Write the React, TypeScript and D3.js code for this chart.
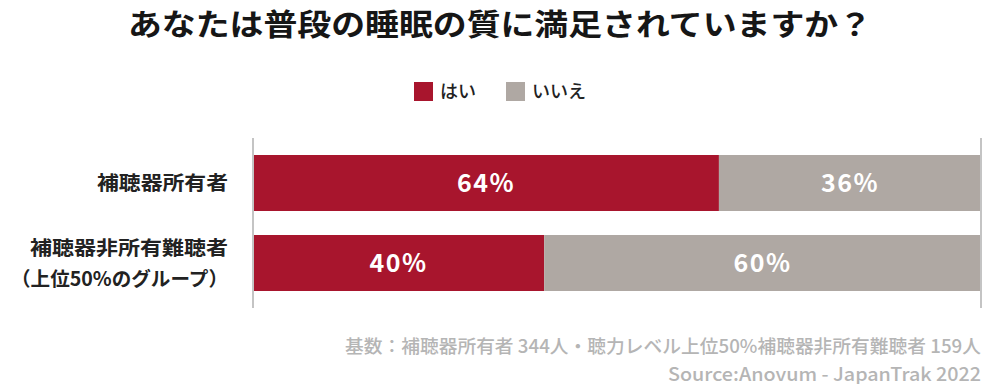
import React, { useEffect, useRef } from 'react';
import { scaleBand, scaleLinear, select } from 'd3';

// groups shown on the y axis (second one wraps to two lines)
const groups = ['補聴器所有者', '補聴器非所有難聴者'];
const groupLines = [['補聴器所有者'], ['補聴器非所有難聴者', '（上位50%のグループ）']];
const seriesNames = ['はい', 'いいえ'];
const yesValues = [64, 40];
const noValues = [36, 60];
const colors = ['#A8152D', '#AFA8A3'];

const title = 'あなたは普段の睡眠の質に満足されていますか？';
const footnotes = [
  '基数：補聴器所有者 344人・聴力レベル上位50%補聴器非所有難聴者 159人',
  'Source:Anovum - JapanTrak 2022',
];

const W = 1000;
const H = 392;
const FONT = '"Noto Sans CJK JP", "Noto Sans", sans-serif';

export default function App() {
  const svgRef = useRef<SVGSVGElement>(null);

  useEffect(() => {
    const svg = select(svgRef.current);
    svg.selectAll('*').remove();

    const left = 253, right = 981;
    const x = scaleLinear().domain([0, 100]).range([left, right]);
    const y = scaleBand().domain(groups).range([143, 303]).paddingInner(0.3).paddingOuter(0.15);

    // title
    svg.append('text')
      .attr('x', 128).attr('y', 35)
      .attr('textLength', 744).attr('lengthAdjust', 'spacingAndGlyphs')
      .attr('font-family', FONT).attr('font-weight', 700)
      .attr('font-size', 30).attr('fill', '#161616')
      .text(title);

    // legend
    const legendX = [414, 506];
    seriesNames.forEach((name, i) => {
      svg.append('rect')
        .attr('x', legendX[i]).attr('y', 82)
        .attr('width', 19).attr('height', 19)
        .attr('fill', colors[i]);
      svg.append('text')
        .attr('x', legendX[i] + 26).attr('y', 98)
        .attr('font-family', FONT).attr('font-weight', 500)
        .attr('font-size', 18).attr('fill', '#222')
        .text(name);
    });

    // stacked bars
    const rows = groups.map((g, i) => ({ g, yes: yesValues[i], no: noValues[i] }));
    rows.forEach((r) => {
      const segs = [
        { v0: 0, v1: r.yes, c: colors[0] },
        { v0: r.yes, v1: r.yes + r.no, c: colors[1] },
      ];
      segs.forEach((s) => {
        svg.append('rect')
          .attr('x', x(s.v0)).attr('y', y(r.g)!)
          .attr('width', x(s.v1) - x(s.v0)).attr('height', y.bandwidth())
          .attr('fill', s.c);
        svg.append('text')
          .attr('x', (x(s.v0) + x(s.v1)) / 2)
          .attr('y', y(r.g)! + y.bandwidth() / 2 + 9)
          .attr('text-anchor', 'middle')
          .attr('font-family', FONT).attr('font-weight', 700)
          .attr('font-size', 25).attr('fill', '#fff')
          .attr('letter-spacing', 1.5)
          .text(`${s.v1 - s.v0}%`);
      });
    });

    // axis lines
    [left, right].forEach((lx) => {
      svg.append('line')
        .attr('x1', lx).attr('x2', lx)
        .attr('y1', 138).attr('y2', 308)
        .attr('stroke', '#c4c4c4').attr('stroke-width', 2);
    });

    // category labels, widths
    const labelWidths = [[131], [198, 217]];
    groups.forEach((g, i) => {
      const lines = groupLines[i];
      const cy = y(g)! + y.bandwidth() / 2;
      const lh = 31;
      lines.forEach((ln, j) => {
        svg.append('text')
          .attr('x', 228 - labelWidths[i][j])
          .attr('y', cy + 7 + (j - (lines.length - 1) / 2) * lh)
          .attr('textLength', labelWidths[i][j]).attr('lengthAdjust', 'spacingAndGlyphs')
          .attr('font-family', FONT).attr('font-weight', 700)
          .attr('font-size', 19.5).attr('fill', '#222')
          .text(ln);
      });
    });

    // footnotes
    const footWidths = [636, 313];
    footnotes.forEach((f, i) => {
      svg.append('text')
        .attr('x', 981 - footWidths[i]).attr('y', 353 + i * 28)
        .attr('textLength', footWidths[i]).attr('lengthAdjust', 'spacingAndGlyphs')
        .attr('font-family', FONT).attr('font-weight', 500)
        .attr('font-size', 18.5).attr('fill', '#b5b5b5')
        .text(f);
    });
  }, []);

  return <svg ref={svgRef} width={W} height={H} style={{ display: 'block', margin: -8 }} />;
}
